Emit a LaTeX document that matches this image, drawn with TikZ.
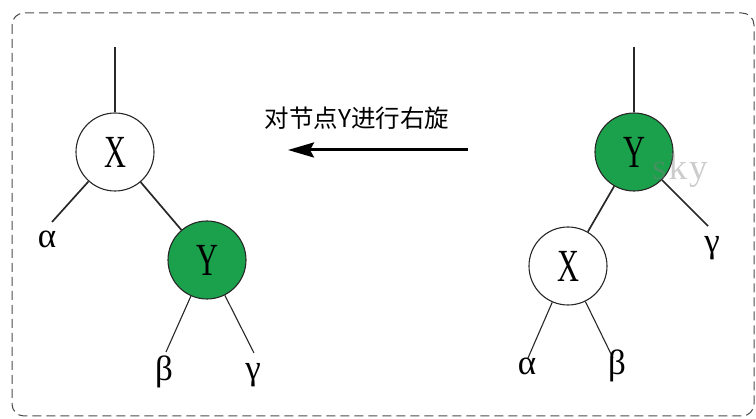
\documentclass[tikz,border=0pt]{standalone}
\usepackage{fontspec}
\usepackage{graphicx}
\usetikzlibrary{arrows.meta}
\newfontfamily\cjk{Noto Sans CJK SC}
\newfontfamily\ltr{Liberation Serif}
\definecolor{nodegreen}{RGB}{27,160,75}
\definecolor{linegray}{RGB}{40,40,40}
\begin{document}
\begin{tikzpicture}[x=1pt,y=-1pt,
  treenode/.style={circle,draw=linegray,line width=1.1pt,minimum size=78pt,inner sep=0pt,
    font=\ltr\fontsize{46}{46}\selectfont},
  rednode/.style={treenode,fill=white},
  greennode/.style={treenode,fill=nodegreen},
  edge/.style={draw=linegray,line width=1.7pt},
  thinedge/.style={draw=linegray,line width=1.1pt},
  greek/.style={anchor=base,inner sep=0pt,font=\ltr\fontsize{35}{35}\selectfont},
]
\useasboundingbox (0,0) rectangle (756,419);
\draw[black!70,line width=1pt,dash pattern=on 9pt off 5pt,rounded corners=12pt]
  (12,13) rectangle (754,416);

% ---- left tree (after rotation)
\coordinate (lt1) at (115,47);
\coordinate (la1) at (52,222);
\coordinate (lb1) at (166,352);
\coordinate (lg1) at (254,353);
\node[rednode] (X1) at (115,152) {\scalebox{0.66}[1]{X}};
\node[greennode] (Y1) at (207,260) {\scalebox{0.66}[1]{Y}};
\draw[edge] (lt1) -- (X1);
\draw[edge] (X1) -- (la1);
\draw[edge] (X1) -- (Y1);
\draw[thinedge] (Y1) -- (lb1);
\draw[thinedge] (Y1) -- (lg1);
\node[greek] (a1) at (47,248) {α};
\node[greek] (b1) at (164,381) {β};
\node[greek] (g1) at (253,380) {γ};

% ---- caption and arrow
\node[font=\cjk\fontsize{24.5}{24.5}\selectfont,inner sep=0pt] (cap) at (357,118) {对节点Y进行右旋};
\coordinate (arrS) at (468,150);
\coordinate (arrE) at (288,150);
\draw[line width=3pt,black,-{Stealth[length=26pt,width=15pt,inset=4pt]}] (arrS) -- (arrE);

% ---- right tree (before rotation)
\coordinate (rt2) at (634,47);
\coordinate (rg2) at (708,226);
\coordinate (ra2) at (528,358);
\coordinate (rb2) at (613,358);
\node[greennode] (Y2) at (634,152) {\scalebox{0.66}[1]{Y}};
\node[rednode] (X2) at (568,266) {\scalebox{0.66}[1]{X}};
\draw[edge] (rt2) -- (Y2);
\draw[edge] (Y2) -- (X2);
\draw[edge] (Y2) -- (rg2);
\draw[thinedge] (X2) -- (ra2);
\draw[thinedge] (X2) -- (rb2);
\node[anchor=base west,inner sep=0pt,text=gray,opacity=0.4,font=\ltr\fontsize{37}{37}\selectfont] (wm) at (652,180) {s\kern2pt k\kern2pt y};
\node[greek] (g2) at (712,253) {γ};
\node[greek] (a2) at (527,375) {α};
\node[greek] (b2) at (617,375) {β};
\end{tikzpicture}
\end{document}
